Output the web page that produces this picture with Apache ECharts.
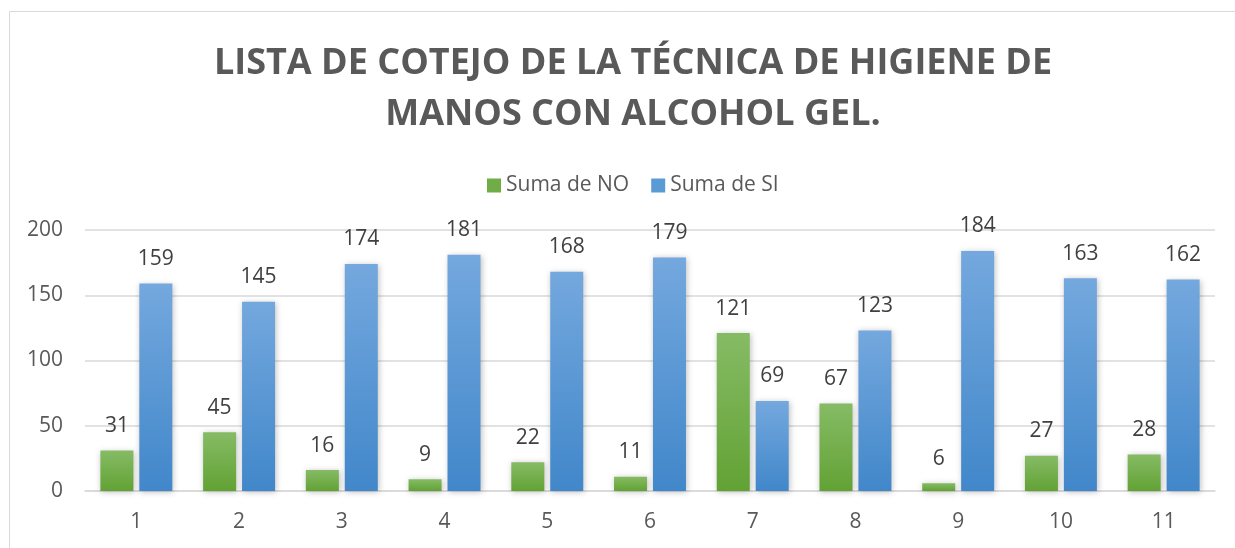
<!DOCTYPE html>
<html>
<head>
<meta charset="utf-8">
<script src="https://cdn.jsdelivr.net/npm/echarts@6/dist/echarts.min.js"></script>
<style>
  html, body { margin: 0; padding: 0; background: #fff; }
  #chart { width: 1235px; height: 548px; }
</style>
</head>
<body>
<div id="chart"></div>
<script>
  // categorias y valores
  const categorias = ['1', '2', '3', '4', '5', '6', '7', '8', '9', '10', '11']
  const sumaNo = [31, 45, 16, 9, 22, 11, 121, 67, 6, 27, 28]
  const sumaSi = [159, 145, 174, 181, 168, 179, 69, 123, 184, 163, 162]
  const ticksY = [0, 50, 100, 150, 200]

  const font = '"Open Sans", sans-serif'

  function gradiente(top, bottom) {
    return new echarts.graphic.LinearGradient(0, 0, 0, 1, [
      {offset: 0, color: top},
      {offset: 1, color: bottom}
    ])
  }

  let myChart = echarts.init(document.getElementById('chart'))
  let option = {
    animation: false,
    backgroundColor: '#fff',
    textStyle: {fontFamily: font},
    graphic: [{
      type: 'rect',
      shape: {x: 9.5, y: 11.5, width: 1400, height: 700},
      style: {fill: 'none', stroke: '#d9d9d9', lineWidth: 1},
      silent: true
    }],
    title: {
      text: 'LISTA DE COTEJO DE LA TÉCNICA DE HIGIENE DE\nMANOS CON ALCOHOL GEL.',
      left: 628,
      top: 33,
      textAlign: 'center',
      textStyle: {
        fontFamily: font,
        fontSize: 36,
        fontWeight: 'bold',
        color: '#595959',
        lineHeight: 51
      }
    },
    legend: {
      top: 170,
      left: 482,
      itemWidth: 14,
      itemHeight: 14,
      itemGap: 22,
      icon: 'rect',
      textStyle: {fontFamily: font, fontSize: 21, color: '#595959'},
      data: [
        {name: 'Suma de NO', itemStyle: {color: '#70ad47'}},
        {name: 'Suma de SI', itemStyle: {color: '#5b9bd5'}}
      ]
    },
    grid: {
      left: 85,
      right: 20,
      top: 230,
      bottom: 57
    },
    xAxis: {
      type: 'category',
      data: categorias,
      axisLine: {lineStyle: {color: '#d9d9d9', width: 1.5}},
      axisTick: {show: false},
      axisLabel: {fontFamily: font, fontSize: 21, color: '#595959', margin: 21}
    },
    yAxis: {
      type: 'value',
      min: ticksY[0],
      max: ticksY[ticksY.length - 1],
      interval: 50,
      axisLine: {show: false},
      axisTick: {show: false},
      splitLine: {lineStyle: {color: '#d9d9d9', width: 1.5}},
      axisLabel: {fontFamily: font, fontSize: 21, color: '#595959', margin: 22}
    },
    series: [
      {
        name: 'Suma de NO',
        type: 'bar',
        data: sumaNo,
        barWidth: 33,
        barGap: '18%',
        itemStyle: {
          color: gradiente('#86bb65', '#62a234'),
          shadowColor: 'rgba(0,0,0,0.25)',
          shadowBlur: 6,
          shadowOffsetX: 1,
          shadowOffsetY: 1
        },
        label: {
          show: true,
          position: 'top',
          distance: 14,
          fontFamily: font,
          fontSize: 21,
          color: '#404040'
        }
      },
      {
        name: 'Suma de SI',
        type: 'bar',
        data: sumaSi,
        barWidth: 33,
        itemStyle: {
          color: gradiente('#74a8de', '#4187ca'),
          shadowColor: 'rgba(0,0,0,0.25)',
          shadowBlur: 6,
          shadowOffsetX: 1,
          shadowOffsetY: 1
        },
        label: {
          show: true,
          position: 'top',
          distance: 14,
          fontFamily: font,
          fontSize: 21,
          color: '#404040'
        }
      }
    ]
  }
  myChart.setOption(option)
</script>
</body>
</html>
